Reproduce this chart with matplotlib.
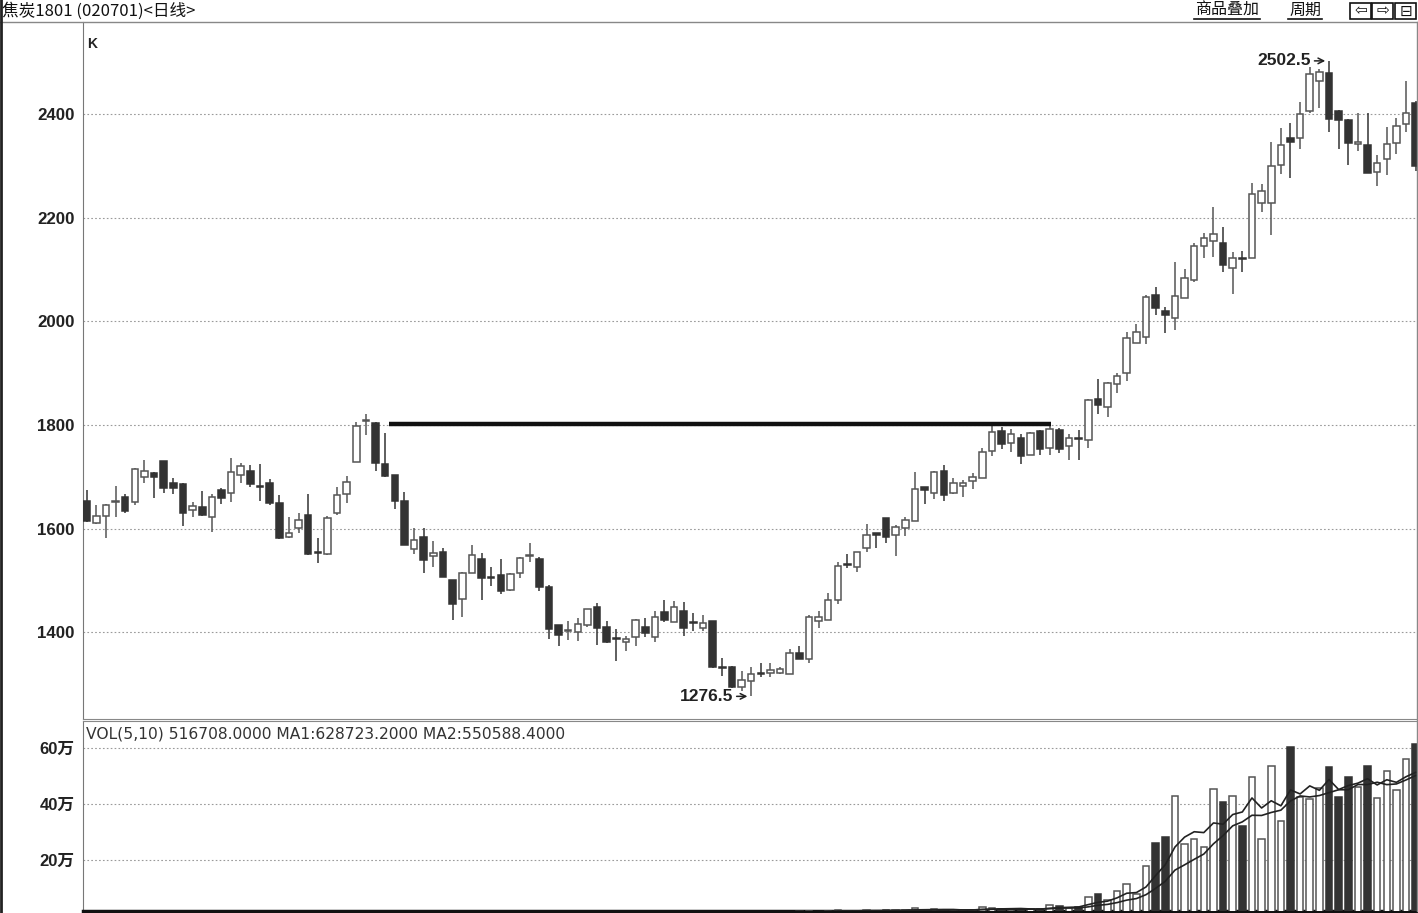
import numpy as np
import pandas as pd
import matplotlib
matplotlib.use('Agg')
import matplotlib.pyplot as plt
from matplotlib.lines import Line2D
from matplotlib.patches import Rectangle

# daily K data for 焦炭1801
opens = [1653, 1611, 1624, 1652, 1661, 1652, 1700, 1707, 1731, 1688,
         1686, 1636, 1642, 1622, 1675, 1669, 1703, 1711, 1682, 1688,
         1650, 1584, 1601, 1626, 1555, 1551, 1630, 1667, 1729, 1808,
         1804, 1725, 1704, 1653, 1561, 1584, 1547, 1555, 1501, 1464,
         1515, 1541, 1507, 1511, 1482, 1515, 1547, 1541, 1488, 1414,
         1402, 1400, 1414, 1449, 1410, 1389, 1381, 1391, 1410, 1391,
         1439, 1420, 1441, 1420, 1408, 1422, 1333, 1333, 1295, 1306,
         1322, 1322, 1322, 1320, 1360, 1349, 1422, 1424, 1462, 1532,
         1526, 1563, 1592, 1620, 1588, 1601, 1615, 1680, 1669, 1711,
         1669, 1682, 1692, 1698, 1750, 1788, 1765, 1775, 1742, 1788,
         1756, 1790, 1759, 1775, 1771, 1850, 1835, 1879, 1900, 1958,
         1970, 2051, 2020, 2006, 2045, 2080, 2145, 2155, 2151, 2103,
         2122, 2122, 2228, 2228, 2302, 2354, 2354, 2406, 2463, 2479,
         2406, 2389, 2342, 2340, 2288, 2313, 2344, 2381, 2421]
closes = [1615, 1624, 1646, 1654, 1634, 1715, 1711, 1700, 1679, 1679,
          1630, 1644, 1626, 1661, 1659, 1709, 1721, 1686, 1680, 1650,
          1582, 1592, 1617, 1551, 1553, 1621, 1665, 1690, 1798, 1810,
          1727, 1702, 1653, 1568, 1578, 1540, 1553, 1507, 1455, 1515,
          1549, 1505, 1505, 1480, 1513, 1543, 1549, 1488, 1406, 1395,
          1404, 1416, 1445, 1408, 1381, 1387, 1387, 1424, 1399, 1430,
          1424, 1449, 1408, 1418, 1418, 1333, 1331, 1295, 1308, 1320,
          1320, 1327, 1329, 1360, 1349, 1430, 1430, 1462, 1528, 1530,
          1555, 1588, 1588, 1584, 1603, 1617, 1677, 1675, 1709, 1665,
          1688, 1688, 1700, 1748, 1786, 1763, 1783, 1740, 1785, 1754,
          1792, 1754, 1775, 1773, 1848, 1838, 1881, 1894, 1968, 1979,
          2047, 2026, 2012, 2049, 2084, 2145, 2161, 2168, 2109, 2122,
          2120, 2246, 2252, 2300, 2341, 2346, 2400, 2477, 2481, 2390,
          2389, 2344, 2346, 2286, 2305, 2342, 2377, 2402, 2300]
highs = [1675, 1646, 1648, 1682, 1667, 1717, 1732, 1709, 1731, 1698,
         1688, 1652, 1673, 1667, 1678, 1736, 1727, 1723, 1725, 1696,
         1665, 1622, 1630, 1667, 1582, 1624, 1680, 1702, 1806, 1821,
         1806, 1785, 1704, 1671, 1601, 1601, 1576, 1563, 1501, 1517,
         1568, 1553, 1526, 1541, 1515, 1545, 1572, 1545, 1492, 1414,
         1422, 1428, 1445, 1457, 1422, 1406, 1393, 1426, 1428, 1441,
         1462, 1460, 1459, 1437, 1433, 1422, 1350, 1335, 1325, 1333,
         1341, 1341, 1333, 1368, 1374, 1433, 1441, 1476, 1536, 1551,
         1555, 1609, 1592, 1620, 1607, 1622, 1709, 1680, 1711, 1723,
         1698, 1694, 1707, 1756, 1798, 1796, 1792, 1783, 1787, 1790,
         1800, 1794, 1783, 1790, 1850, 1889, 1883, 1900, 1979, 1995,
         2051, 2066, 2028, 2114, 2101, 2151, 2170, 2221, 2182, 2134,
         2136, 2267, 2265, 2346, 2373, 2383, 2423, 2491, 2486, 2502.5,
         2408, 2390, 2402, 2402, 2321, 2375, 2392, 2464, 2425]
lows = [1613, 1609, 1582, 1622, 1630, 1646, 1688, 1659, 1669, 1667,
        1605, 1622, 1624, 1594, 1648, 1652, 1688, 1680, 1653, 1646,
        1580, 1582, 1592, 1549, 1534, 1549, 1626, 1650, 1729, 1781,
        1711, 1700, 1638, 1568, 1551, 1515, 1526, 1507, 1424, 1430,
        1515, 1462, 1490, 1474, 1480, 1505, 1536, 1480, 1387, 1374,
        1385, 1383, 1410, 1376, 1379, 1345, 1364, 1374, 1391, 1381,
        1420, 1420, 1393, 1402, 1402, 1331, 1316, 1293, 1287, 1276.5,
        1314, 1314, 1320, 1320, 1349, 1341, 1408, 1424, 1455, 1524,
        1516, 1555, 1563, 1573, 1547, 1586, 1615, 1648, 1657, 1653,
        1667, 1661, 1677, 1698, 1740, 1754, 1748, 1725, 1742, 1742,
        1742, 1746, 1732, 1732, 1756, 1821, 1815, 1862, 1885, 1958,
        1956, 2012, 1977, 1983, 2045, 2076, 2122, 2124, 2095, 2053,
        2095, 2122, 2211, 2167, 2284, 2277, 2333, 2402, 2411, 2365,
        2333, 2302, 2329, 2286, 2261, 2282, 2323, 2365, 2290]

# volume in 万 (10k lots)
vol_wan = [0.62, 0.55, 0.71, 0.58, 0.66, 0.80, 0.64, 0.59, 0.75, 0.61,
           0.83, 0.70, 0.66, 0.78, 0.60, 0.92, 0.74, 0.69, 0.63, 0.81,
           0.95, 0.72, 0.68, 1.02, 0.77, 0.85, 0.79, 0.88, 1.15, 0.96,
           1.08, 0.93, 0.99, 1.12, 0.87, 1.01, 0.84, 0.97, 1.20, 1.05,
           0.91, 1.07, 0.86, 1.00, 0.94, 0.98, 0.89, 1.03, 1.25, 1.10,
           0.92, 0.96, 1.04, 1.11, 1.00, 0.93, 0.90, 1.06, 0.97, 1.08,
           1.02, 1.14, 1.09, 0.99, 1.05, 1.38, 1.22, 1.30, 1.18, 1.26,
           1.12, 1.15, 1.20, 1.45, 1.95, 1.70, 1.62, 1.90, 2.05, 1.85,
           1.80, 2.10, 1.92, 2.20, 1.98, 2.05, 2.90, 2.15, 2.35, 2.25,
           2.05, 1.98, 2.10, 3.40, 2.80, 2.50, 2.30, 2.45, 2.60, 2.55,
           3.9, 3.5, 3.0, 3.2, 6.8, 7.9, 5.7, 8.9, 11.4, 8.0,
           17.9, 26.1, 28.2, 42.9, 25.7, 27.5, 24.6, 45.4, 40.7, 42.9,
           32.1, 49.6, 27.5, 53.6, 33.9, 60.4, 42.5, 41.8, 45.7, 53.2,
           42.5, 49.6, 46.1, 53.6, 42.1, 51.8, 45.0, 56.1, 61.4]

price_ticks = [1400, 1600, 1800, 2000, 2200, 2400]
vol_ticks = [200000, 400000, 600000]
vol_tick_labels = ['20万', '40万', '60万']

# the 1800 neckline drawn across the chart (bar index range)
neck_level = 1802
neck_from = 31.4
neck_to = 100.1

title = '焦炭1801 (020701)<日线>'
vol_title = 'VOL(5,10) 516708.0000 MA1:628723.2000 MA2:550588.4000'

df = pd.DataFrame({'open': opens, 'high': highs, 'low': lows, 'close': closes,
                   'vol': np.array(vol_wan) * 10000})
df['ma5'] = df['vol'].rolling(5, min_periods=1).mean()
df['ma10'] = df['vol'].rolling(10, min_periods=1).mean()
x = np.arange(len(df))
up = df['close'] >= df['open']

DARK = '#333333'
EDGE = '#555555'
cjk = ['Liberation Sans', 'Noto Sans CJK SC']

W, H = 1418, 913
fig = plt.figure(figsize=(W / 100, H / 100), dpi=100)
ax = fig.add_axes([83 / W, 1 - 719 / H, (W - 83) / W, 697 / H])
axv = fig.add_axes([83 / W, 1 - 911 / H, (W - 83) / W, 190 / H], sharex=ax)

# candles
wick_col = np.where(up, EDGE, DARK)
ax.vlines(x, df['low'], df['high'], colors=wick_col, lw=1.1, zorder=2)
body_lo = np.minimum(df['open'], df['close'])
body_h = np.maximum(np.abs(df['close'] - df['open']), 1.5)
ax.bar(x, body_h, bottom=body_lo, width=0.68,
       color=np.where(up, 'white', DARK), edgecolor=wick_col, lw=1.1, zorder=3)

ax.hlines(neck_level, neck_from, neck_to, color='#111111', lw=3.2, zorder=4)

# high / low marks
hi_i = int(df['high'].idxmax())
lo_i = int(df['low'].idxmin())
for i, v in [(hi_i, df['high'][hi_i]), (lo_i, df['low'][lo_i])]:
    ax.annotate('', xy=(i - 0.1, v), xytext=(i - 1.8, v),
                arrowprops=dict(arrowstyle='->', color='#222', lw=1.1))
    ax.text(i - 1.85, v, f'{v:.1f}', ha='right', va='center',
            fontsize=12.5, fontweight='bold', color='#222', family='Liberation Sans')

ax.set_xlim(-0.38, 138.24)
ax.set_ylim(1232.8, 2577.5)
ax.set_yticks(price_ticks)
ax.set_yticklabels([str(t) for t in price_ticks], fontsize=12.2, fontweight='bold',
                   family='Liberation Sans', color='#222')
ax.tick_params(axis='y', length=0, pad=6)
ax.tick_params(axis='x', bottom=False, labelbottom=False)
ax.grid(axis='y', linestyle=(0, (1.5, 2)), color='#9a9a9a', lw=0.8)
ax.set_axisbelow(True)
for s in ['top', 'right']:
    ax.spines[s].set_visible(False)
ax.spines['left'].set_color('#777777')
ax.spines['bottom'].set_color('#888888')
ax.text(0.003, 0.978, 'K', transform=ax.transAxes, fontsize=10, fontweight='bold',
        va='top', color='#222', family='Liberation Sans')

# volume
axv.bar(x, df['vol'], width=0.68, color=np.where(up, 'white', DARK),
        edgecolor=np.where(up, EDGE, DARK), lw=1.1, zorder=3)
axv.plot(x, df['ma5'], color='#222', lw=1.2, zorder=4)
axv.plot(x, df['ma10'], color='#222', lw=1.2, zorder=4)
axv.set_ylim(18000, 696000)
axv.set_yticks(vol_ticks)
axv.set_yticklabels(vol_tick_labels, fontsize=12, fontweight='bold', family=cjk, color='#222')
axv.tick_params(axis='y', length=0, pad=6)
axv.tick_params(axis='x', bottom=False, labelbottom=False)
axv.grid(axis='y', linestyle=(0, (1.5, 2)), color='#9a9a9a', lw=0.8)
axv.set_axisbelow(True)
axv.spines['right'].set_visible(False)
axv.spines['left'].set_color('#777777')
axv.spines['top'].set_color('#888888')
axv.spines['bottom'].set_color('#111111')
axv.spines['bottom'].set_linewidth(2.5)
axv.text(0.002, 0.93, vol_title, transform=axv.transAxes, fontsize=11.2,
         color='#333', va='center', family='DejaVu Sans')

# title bar
fig.text(2 / W, 1 - 11 / H, title, fontsize=12, va='center', family=['Noto Sans CJK SC'],
         color='#111')
fig.add_artist(Line2D([0, 1], [1 - 22.5 / H] * 2, color='#888888', lw=1))
fig.add_artist(Line2D([1 / W, 1 / W], [0, 1], color='#222222', lw=2))
fig.add_artist(Line2D([1 - 1.5 / W] * 2, [1 - 911 / H, 1 - 22.5 / H], color='#888888', lw=1))
for label, cx, w in [('商品叠加', 1227, 66), ('周期', 1305, 34)]:
    fig.text(cx / W, 1 - 10 / H, label, fontsize=11.5, ha='center', va='center',
             family=['Noto Sans CJK SC'], color='#111')
    fig.add_artist(Line2D([(cx - w / 2) / W, (cx + w / 2) / W], [1 - 19.5 / H] * 2,
                          color='#111', lw=1.2))
for sym, bx in [('⇦', 1350), ('⇨', 1372), ('⊟', 1395)]:
    fig.add_artist(Rectangle((bx / W, 1 - 19 / H), 21 / W, 16 / H, fill=False,
                             edgecolor='#111', lw=1.2, transform=fig.transFigure))
    fig.text((bx + 10.5) / W, 1 - 11 / H, sym, fontsize=11, ha='center', va='center',
             family='DejaVu Sans', color='#111')

fig.savefig('out.png', dpi=100, facecolor='white')
